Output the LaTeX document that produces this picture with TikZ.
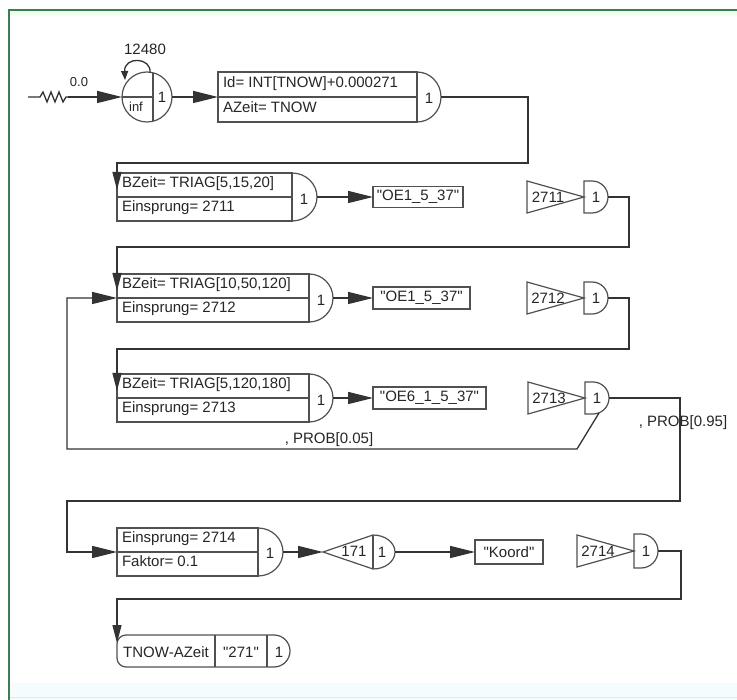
\documentclass[tikz,border=0pt]{standalone}
\usepackage{fontspec}
\newfontfamily\dfont{Liberation Sans}
\usetikzlibrary{arrows.meta,calc}
\definecolor{shpc}{HTML}{505050}
\definecolor{lnc}{HTML}{333333}
\definecolor{frameg}{HTML}{3E7D52}
\begin{document}
\begin{tikzpicture}[x=1pt,y=-1pt,
  every node/.style={inner sep=0pt, outer sep=0pt, font=\dfont\fontsize{15}{17}\selectfont, text=black!85},
  shp/.style={draw=shpc, line width=1.2pt},
  conn/.style={draw=lnc, line width=1.3pt},
  big/.style={-{Triangle[length=25pt,width=12pt]}},
  small/.style={-{Triangle[length=18pt,width=9pt]}},
  actbox/.style={shp, rectangle, anchor=north west},
  outbox/.style={shp, rectangle},
  gatebox/.style={rectangle, minimum width=24pt, minimum height=32pt},
  lbl/.style={font=\dfont\fontsize{13}{15}\selectfont},
  tl/.style={anchor=base west}
]
\useasboundingbox (0,0) rectangle (737,700);
\fill[white] (0,0) rectangle (737,700);
% frame
\fill[green!7!white] (10,11) rectangle (737,15);
\fill[cyan!4!white] (10,683) rectangle (737,700);
\draw[cyan!18!white, line width=1pt] (10,697) -- (737,697);
\draw[frameg, line width=1.5pt] (9,700) -- (9,10) -- (737,10);

% ---------- row 1 ----------
\coordinate (src) at (28,97);
\node[minimum width=28pt, minimum height=10pt] (res) at (54,97) {};
\draw[conn] (src) -- (res.west) -- ++(3,-5) -- ++(4,10) -- ++(4,-10) -- ++(4,10) -- ++(4,-10) -- ++(4,10) -- ++(3,-5) -- (res.east);
\node[lbl] (l00) at (79,82) {0.0};
\node[shp, circle, minimum size=50pt] (cre) at (147,97) {};
\draw[conn, big] (res.east) -- (cre.west);
\draw[shp] (cre.west) -- (153,97);
\draw[shp] (153,72.7) -- (153,121.3);
\node[lbl] (inf) at (136,107) {inf};
\node (c1) at (162,97) {1};
\draw[conn, -{Triangle[length=9pt,width=7pt]}] (150,73) .. controls (152,57) and (124,56) .. (125,80);
\node (n12480) at (145,49) {12480};

\node[actbox, minimum width=199pt, minimum height=50pt] (b1) at (218,72) {};
\draw[shp] (b1.west) -- (b1.east);
\draw[shp] (b1.north east) arc[start angle=90,end angle=-90,x radius=24pt,y radius=25pt];
\node[tl] (b1a) at (223,88) {Id= INT[TNOW]+0.000271};
\node[tl] (b1b) at (223,113) {AZeit= TNOW};
\node (b1n) at (429,98) {1};
\draw[conn, big] (cre.east) -- (b1.west);

% ---------- row 2 ----------
\node[actbox, minimum width=175pt, minimum height=48pt] (b2) at (117,173) {};
\draw[shp] (b2.west) -- (b2.east);
\draw[shp] (b2.north east) arc[start angle=90,end angle=-90,x radius=25pt,y radius=24pt];
\node[tl] (b2a) at (122,188) {BZeit= TRIAG[5,15,20]};
\node[tl] (b2b) at (122,212) {Einsprung= 2711};
\node (b2n) at (304,199) {1};
\draw[conn, small] ($(b1.east)+(24,0)$) -- (528,97) -- (528,163) -- (117,163) -- ($(b2.north west)+(0,17)$);
\node[outbox, minimum width=90pt, minimum height=21pt] (o2) at (418,197) {"OE1\_5\_37"};
\draw[conn, big] ($(b2.east)+(25,0)$) -- (o2.west);
\node[gatebox] (g2) at (596,197) {1};
\draw[shp] (g2.north west) -- ++(8,0) arc[start angle=90,end angle=-90,radius=16pt] -- (g2.south west) -- cycle;
\draw[shp] (g2.west) -- ++(-57,-16) -- ++(0,32) -- cycle;
\node (t2) at (548,197) {2711};

% ---------- row 3 ----------
\node[actbox, minimum width=192pt, minimum height=48pt] (b3) at (117,274) {};
\draw[shp] (b3.west) -- (b3.east);
\draw[shp] (b3.north east) arc[start angle=90,end angle=-90,x radius=24pt,y radius=24pt];
\node[tl] (b3a) at (122,289) {BZeit= TRIAG[10,50,120]};
\node[tl] (b3b) at (122,313) {Einsprung= 2712};
\node (b3n) at (321,300) {1};
\draw[conn, small] (g2.east) -- (629,197) -- (629,247) -- (117,247) -- ($(b3.north west)+(0,17)$);
\node[outbox, minimum width=97pt, minimum height=22pt] (o3) at (421.5,298) {"OE1\_5\_37"};
\draw[conn, big] ($(b3.east)+(24,0)$) -- (o3.west);
\node[gatebox] (g3) at (596,298) {1};
\draw[shp] (g3.north west) -- ++(8,0) arc[start angle=90,end angle=-90,radius=16pt] -- (g3.south west) -- cycle;
\draw[shp] (g3.west) -- ++(-57,-16) -- ++(0,32) -- cycle;
\node (t3) at (548,298) {2712};

% ---------- row 4 ----------
\node[actbox, minimum width=192pt, minimum height=48pt] (b4) at (117,374) {};
\draw[shp] (b4.west) -- (b4.east);
\draw[shp] (b4.north east) arc[start angle=90,end angle=-90,x radius=24pt,y radius=24pt];
\node[tl] (b4a) at (122,389) {BZeit= TRIAG[5,120,180]};
\node[tl] (b4b) at (122,413) {Einsprung= 2713};
\node (b4n) at (321,400) {1};
\draw[conn, small] (g3.east) -- (629,298) -- (629,349) -- (117,349) -- ($(b4.north west)+(0,17)$);
\node[outbox, minimum width=113pt, minimum height=22pt] (o4) at (429.5,398) {"OE6\_1\_5\_37"};
\draw[conn, big] ($(b4.east)+(24,0)$) -- (o4.west);
\node[gatebox] (g4) at (597,398) {1};
\draw[shp] (g4.north west) -- ++(8,0) arc[start angle=90,end angle=-90,radius=16pt] -- (g4.south west) -- cycle;
\draw[shp] (g4.west) -- ++(-57,-16) -- ++(0,32) -- cycle;
\node (t4) at (549,398) {2713};
% branch back (0.05)
\draw[conn, big] ($(g4.center)+(2,15)$) -- (577,449) -- (67,449) -- (67,298) -- (b3.west);
\node (p05) at (329,440) {, PROB[0.05]};
\node (p95) at (683,423) {, PROB[0.95]};

% ---------- row 5 ----------
\node[actbox, minimum width=141pt, minimum height=48pt] (b5) at (117,528) {};
\draw[shp] (b5.west) -- (b5.east);
\draw[shp] (b5.north east) arc[start angle=90,end angle=-90,x radius=25pt,y radius=24pt];
\node[tl] (b5a) at (122,543) {Einsprung= 2714};
\node[tl] (b5b) at (122,567) {Faktor= 0.1};
\node (b5n) at (270,553) {1};
\draw[conn, big] (g4.east) -- (680,398) -- (680,501) -- (67,501) -- (67,552) -- (b5.west);
\node[minimum width=72pt, minimum height=34pt] (q) at (359,552) {};
\draw[shp] (q.west) -- (373,535) arc[start angle=90,end angle=-90,x radius=22pt,y radius=17pt] -- cycle;
\draw[shp] (373,535) -- (373,569);
\node (qt) at (354,551) {171};
\node (qn) at (382,552) {1};
\draw[conn, big] ($(b5.east)+(25,0)$) -- (q.west);
\node[outbox, minimum width=68pt, minimum height=24pt] (ko) at (509,552) {"Koord"};
\draw[conn, big] (q.east) -- (ko.west);
\node[gatebox, minimum height=34pt] (g5) at (646,551) {1};
\draw[shp] (g5.north west) -- ++(7,0) arc[start angle=90,end angle=-90,radius=17pt] -- (g5.south west) -- cycle;
\draw[shp] (g5.west) -- ++(-57,-16) -- ++(0,32) -- cycle;
\node (t5) at (598,551) {2714};

% ---------- final ----------
\node[anchor=north west, minimum width=173pt, minimum height=32pt] (fin) at (117,635) {};
\draw[shp, rounded corners=9pt] (274,635) -- (fin.north west) -- (fin.south west) -- (274,667);
\draw[shp] (274,667) arc[start angle=-90,end angle=90,radius=16pt];
\draw[shp] (215,635) -- (215,667);
\draw[shp] (267,635) -- (267,667);
\node (f1) at (166,652) {TNOW-AZeit};
\node (f2) at (241,652) {"271"};
\node (f3) at (279,652) {1};
\draw[conn, small] (g5.east) -- (681,551) -- (681,599) -- (117,599) -- ($(fin.north west)+(0,8)$);
\end{tikzpicture}
\end{document}
